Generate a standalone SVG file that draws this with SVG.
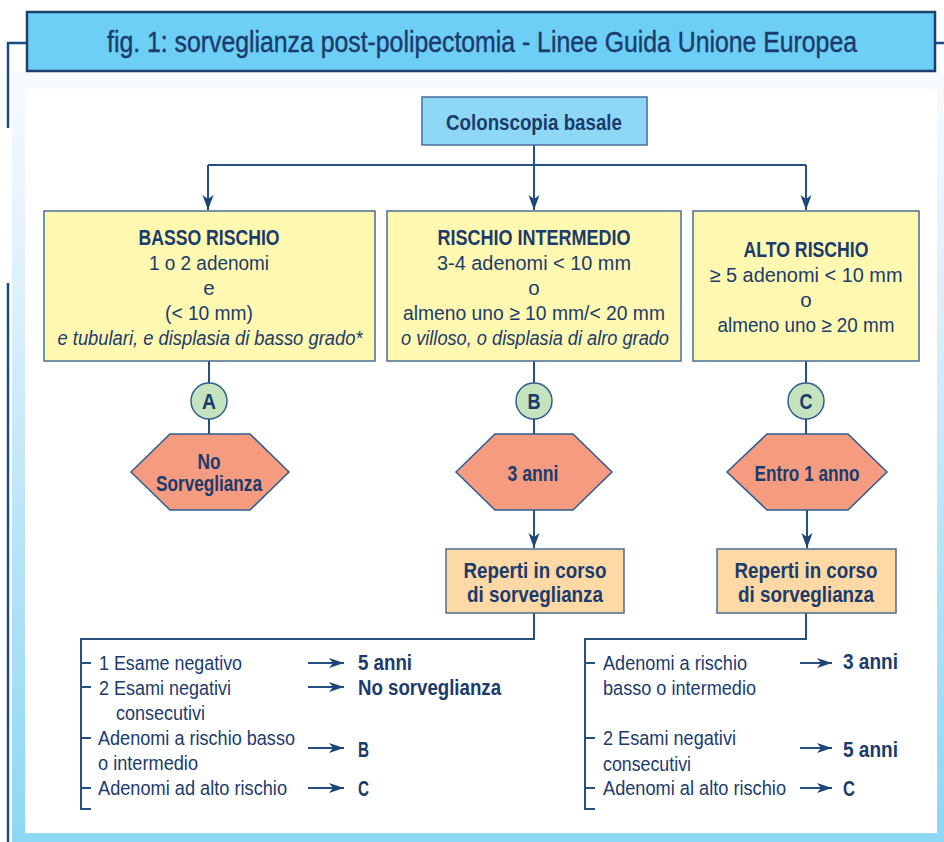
<svg xmlns="http://www.w3.org/2000/svg" width="944" height="842" viewBox="0 0 944 842">
<defs>
<linearGradient id="bg" x1="0" y1="0" x2="0" y2="1">
<stop offset="0" stop-color="#f7fbfe"/>
<stop offset="0.3" stop-color="#ddeffb"/>
<stop offset="0.6" stop-color="#b9e4f8"/>
<stop offset="1" stop-color="#8dd7f5"/>
</linearGradient>
<marker id="ad" markerUnits="userSpaceOnUse" markerWidth="16" markerHeight="12" refX="15" refY="6" orient="auto" viewBox="0 0 16 12">
<path d="M0,0.5 L15,6 L0,11.5 L4,6 Z" fill="#1d4577"/>
</marker>
<marker id="ar" markerUnits="userSpaceOnUse" markerWidth="16" markerHeight="12" refX="15" refY="6" orient="auto" viewBox="0 0 16 12">
<path d="M0,1 L15,6 L0,11 L4,6 Z" fill="#1d4577"/>
</marker>
</defs>
<style>
text{font-family:"Liberation Sans",Arial,sans-serif;fill:#1b3b6c}
.t{font-size:29px;stroke:#1b3b6c;stroke-width:0.4}
.b{font-size:22px;font-weight:bold}
.r{font-size:20.5px}
.i{font-size:20.5px;font-style:italic}
.m{text-anchor:middle}
.ln{fill:none;stroke:#25507f;stroke-width:2}
.fr{fill:none;stroke:#1d4a80;stroke-width:2.5}
.box{stroke:#4a6d96;stroke-width:1.5}
.y{fill:#fff8b0}
.o{fill:#fed9a6}
.h{fill:#f59c80;stroke:#2f5c8c;stroke-width:1.5}
.c{fill:#c5e3bf;stroke:#2f5c8c;stroke-width:1.5}
</style>
<rect x="12" y="71" width="932" height="771" fill="url(#bg)"/>
<rect x="25" y="89" width="912" height="744" fill="#ffffff"/>
<path class="fr" d="M8,128 V43 H27 M935,43 H944 M8,283 V842"/>
<g id="title">
<rect x="27" y="12" width="908" height="59" fill="#6dcff6" stroke="#1c3f6e" stroke-width="2.5"/>
<text class="t m" x="482" y="52" textLength="750" lengthAdjust="spacingAndGlyphs">fig. 1: sorveglianza post-polipectomia - Linee Guida Unione Europea</text>
</g>
<g id="connectors">
<path class="ln" d="M534,145 V165 M208,165 H806" />
<path class="ln" d="M208,165 V210" marker-end="url(#ad)"/>
<path class="ln" d="M534,165 V210" marker-end="url(#ad)"/>
<path class="ln" d="M806,165 V210" marker-end="url(#ad)"/>
<path class="ln" d="M209,361 V383 M209,419 V434"/>
<path class="ln" d="M534,361 V383 M534,419 V434"/>
<path class="ln" d="M806,361 V383 M806,419 V434"/>
<path class="ln" d="M534,510 V548" marker-end="url(#ad)"/>
<path class="ln" d="M807,510 V548" marker-end="url(#ad)"/>
<path class="ln" d="M534,613 V639 H81 V809 H91 M81,663 H91 M81,687 H91 M81,738 H91 M81,788 H91"/>
<path class="ln" d="M806,613 V639 H585 V809 H595 M585,663 H595 M585,738 H595 M585,788 H595"/>
<path class="ln" d="M308,663 H344" marker-end="url(#ar)"/>
<path class="ln" d="M308,687 H344" marker-end="url(#ar)"/>
<path class="ln" d="M308,748 H344" marker-end="url(#ar)"/>
<path class="ln" d="M308,788 H344" marker-end="url(#ar)"/>
<path class="ln" d="M800,663 H832" marker-end="url(#ar)"/>
<path class="ln" d="M800,748 H832" marker-end="url(#ar)"/>
<path class="ln" d="M800,788 H832" marker-end="url(#ar)"/>
</g>
<g id="colonscopia">
<rect x="422" y="97" width="225" height="48" fill="#8ed8f6" class="box"/>
<text class="b m" x="534" y="130" textLength="176" lengthAdjust="spacingAndGlyphs">Colonscopia basale</text>
</g>
<g id="basso">
<rect x="44" y="211" width="331" height="150" class="box y"/>
<text class="b m" x="209" y="245" textLength="141" lengthAdjust="spacingAndGlyphs">BASSO RISCHIO</text>
<text class="r m" x="209" y="270" textLength="120" lengthAdjust="spacingAndGlyphs">1 o 2 adenomi</text>
<text class="r m" x="209" y="295">e</text>
<text class="r m" x="209" y="320" textLength="88" lengthAdjust="spacingAndGlyphs">(&lt; 10 mm)</text>
<text class="i m" x="210" y="345" textLength="305" lengthAdjust="spacingAndGlyphs">e tubulari, e displasia di basso grado*</text>
</g>
<g id="intermedio">
<rect x="387" y="211" width="294" height="150" class="box y"/>
<text class="b m" x="534" y="245" textLength="193" lengthAdjust="spacingAndGlyphs">RISCHIO INTERMEDIO</text>
<text class="r m" x="534" y="270" textLength="194" lengthAdjust="spacingAndGlyphs">3-4 adenomi &lt; 10 mm</text>
<text class="r m" x="534" y="295">o</text>
<text class="r m" x="534" y="320" textLength="262" lengthAdjust="spacingAndGlyphs">almeno uno ≥ 10 mm/&lt; 20 mm</text>
<text class="i m" x="535" y="345" textLength="268" lengthAdjust="spacingAndGlyphs">o villoso, o displasia di alro grado</text>
</g>
<g id="alto">
<rect x="693" y="211" width="226" height="150" class="box y"/>
<text class="b m" x="806" y="257" textLength="125" lengthAdjust="spacingAndGlyphs">ALTO RISCHIO</text>
<text class="r m" x="806" y="282" textLength="193" lengthAdjust="spacingAndGlyphs">≥ 5 adenomi &lt; 10 mm</text>
<text class="r m" x="806" y="307">o</text>
<text class="r m" x="806" y="332" textLength="177" lengthAdjust="spacingAndGlyphs">almeno uno ≥ 20 mm</text>
</g>
<g id="circleA">
<circle cx="209" cy="401" r="18" class="c"/>
<text class="b m" x="209" y="409" textLength="14" lengthAdjust="spacingAndGlyphs">A</text>
</g>
<g id="circleB">
<circle cx="534" cy="401" r="18" class="c"/>
<text class="b m" x="534" y="409" textLength="13" lengthAdjust="spacingAndGlyphs">B</text>
</g>
<g id="circleC">
<circle cx="806" cy="401" r="18" class="c"/>
<text class="b m" x="806" y="409" textLength="13" lengthAdjust="spacingAndGlyphs">C</text>
</g>
<g id="hexA">
<polygon points="131,472 170,434 250,434 289,472 250,510 170,510" class="h"/>
<text class="b m" x="209" y="469" textLength="23" lengthAdjust="spacingAndGlyphs">No</text>
<text class="b m" x="209" y="491" textLength="106" lengthAdjust="spacingAndGlyphs">Sorveglianza</text>
</g>
<g id="hexB">
<polygon points="456,472 495,434 573,434 612,472 573,510 495,510" class="h"/>
<text class="b m" x="533" y="481" textLength="51" lengthAdjust="spacingAndGlyphs">3 anni</text>
</g>
<g id="hexC">
<polygon points="727,472 767,434 848,434 887,472 848,510 767,510" class="h"/>
<text class="b m" x="807" y="481" textLength="105" lengthAdjust="spacingAndGlyphs">Entro 1 anno</text>
</g>
<g id="repertiB">
<rect x="446" y="549" width="178" height="64" class="box o"/>
<text class="b m" x="535" y="578" textLength="143" lengthAdjust="spacingAndGlyphs">Reperti in corso</text>
<text class="b m" x="535" y="602" textLength="136" lengthAdjust="spacingAndGlyphs">di sorveglianza</text>
</g>
<g id="repertiC">
<rect x="717" y="549" width="179" height="64" class="box o"/>
<text class="b m" x="806" y="578" textLength="143" lengthAdjust="spacingAndGlyphs">Reperti in corso</text>
<text class="b m" x="806" y="602" textLength="136" lengthAdjust="spacingAndGlyphs">di sorveglianza</text>
</g>
<g id="listB">
<text class="r" x="99" y="670" textLength="143" lengthAdjust="spacingAndGlyphs">1 Esame negativo</text>
<text class="r" x="99" y="695" textLength="132" lengthAdjust="spacingAndGlyphs">2 Esami negativi</text>
<text class="r" x="116" y="720" textLength="89" lengthAdjust="spacingAndGlyphs">consecutivi</text>
<text class="r" x="98" y="745" textLength="197" lengthAdjust="spacingAndGlyphs">Adenomi a rischio basso</text>
<text class="r" x="98" y="770" textLength="100" lengthAdjust="spacingAndGlyphs">o intermedio</text>
<text class="r" x="98" y="795" textLength="189" lengthAdjust="spacingAndGlyphs">Adenomi ad alto rischio</text>
<text class="b" x="358" y="670" textLength="54" lengthAdjust="spacingAndGlyphs">5 anni</text>
<text class="b" x="358" y="695" textLength="143" lengthAdjust="spacingAndGlyphs">No sorveglianza</text>
<text class="b" x="358" y="757" textLength="11" lengthAdjust="spacingAndGlyphs">B</text>
<text class="b" x="358" y="796" textLength="11" lengthAdjust="spacingAndGlyphs">C</text>
</g>
<g id="listC">
<text class="r" x="603" y="670" textLength="144" lengthAdjust="spacingAndGlyphs">Adenomi a rischio</text>
<text class="r" x="603" y="695" textLength="153" lengthAdjust="spacingAndGlyphs">basso o intermedio</text>
<text class="r" x="603" y="745" textLength="133" lengthAdjust="spacingAndGlyphs">2 Esami negativi</text>
<text class="r" x="603" y="771" textLength="88" lengthAdjust="spacingAndGlyphs">consecutivi</text>
<text class="r" x="603" y="795" textLength="183" lengthAdjust="spacingAndGlyphs">Adenomi al alto rischio</text>
<text class="b" x="843" y="669" textLength="55" lengthAdjust="spacingAndGlyphs">3 anni</text>
<text class="b" x="843" y="757" textLength="55" lengthAdjust="spacingAndGlyphs">5 anni</text>
<text class="b" x="843" y="796" textLength="12" lengthAdjust="spacingAndGlyphs">C</text>
</g>
</svg>
